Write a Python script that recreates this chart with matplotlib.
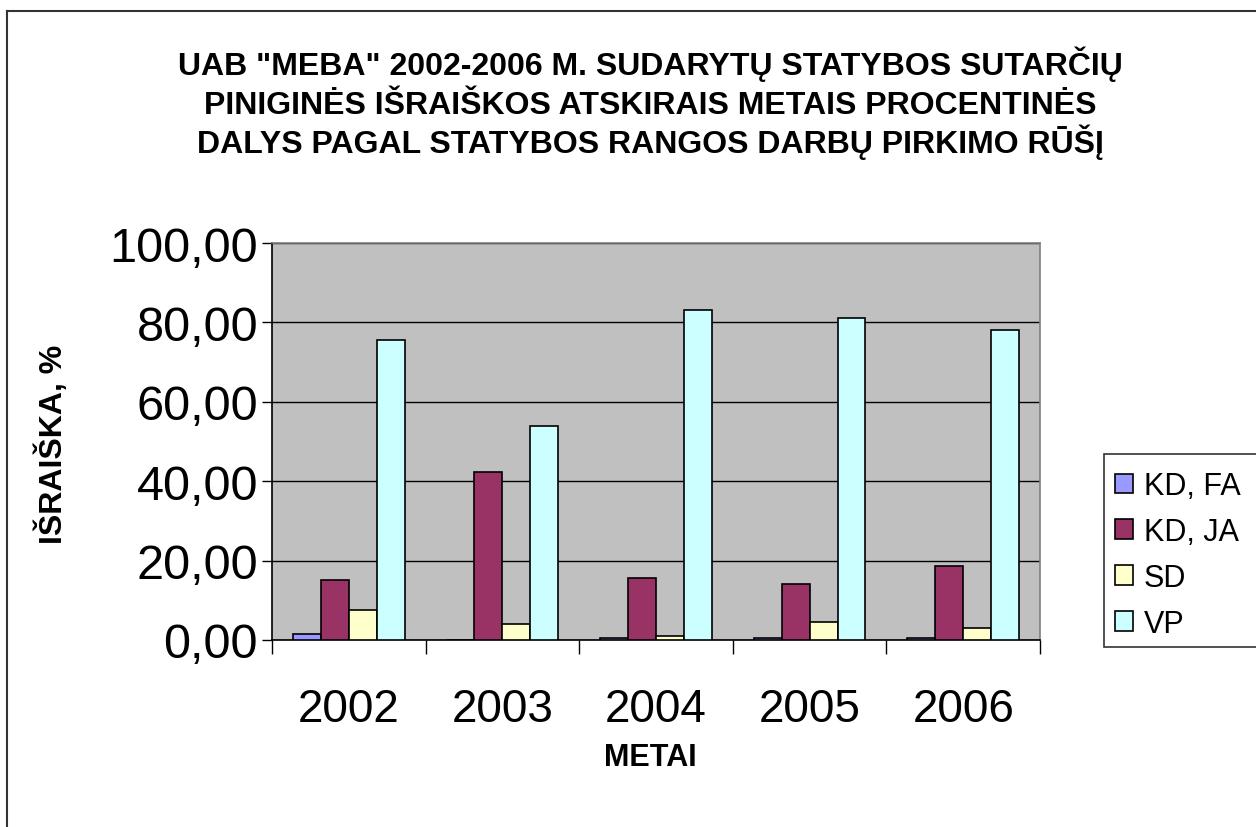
# UAB "MEBA" contract shares by purchase type, 2002-2006

# %% Libraries
import numpy as np
import matplotlib
matplotlib.use("Agg")
import matplotlib.pyplot as plt
from matplotlib.lines import Line2D
from matplotlib.patches import Rectangle
from matplotlib.ticker import FuncFormatter

plt.rcParams["font.family"] = ["Liberation Sans", "DejaVu Sans"]

# %% Data
years = ["2002", "2003", "2004", "2005", "2006"]
series_names = ["KD, FA", "KD, JA", "SD", "VP"]
kd_fa = [1.5, 0.0, 0.5, 0.5, 0.5]
kd_ja = [15.1, 42.3, 15.6, 14.1, 18.6]
sd = [7.6, 4.0, 1.0, 4.5, 3.0]
vp = [75.6, 53.9, 83.1, 81.1, 78.1]
colors = ["#9999FF", "#993366", "#FFFFCC", "#CCFFFF"]

title_lines = ['UAB "MEBA" 2002-2006 M. SUDARYTŲ STATYBOS SUTARČIŲ',
               'PINIGINĖS IŠRAIŠKOS ATSKIRAIS METAIS PROCENTINĖS',
               'DALYS PAGAL STATYBOS RANGOS DARBŲ PIRKIMO RŪŠĮ']

# %% Figure
W, H = 1256, 828
fig = plt.figure(figsize=(W / 100, H / 100), dpi=100)
ax = fig.add_axes([272 / W, (H - 641) / H, 768 / W, 397 / H])
ax.set_facecolor("#C0C0C0")

x = np.arange(len(years))
bar_w = 1 / 5.5  # Excel gap width 150 %
for i, (vals, name, col) in enumerate(zip([kd_fa, kd_ja, sd, vp], series_names, colors)):
    ax.bar(x + (i - 1.5) * bar_w, vals, width=bar_w, color=col, edgecolor="black",
           linewidth=1.2, label=name, zorder=3)

ax.set_xlim(-0.5, len(years) - 0.5)
ax.set_ylim(0, 100)
ax.set_yticks(np.arange(0, 101, 20))
ax.yaxis.set_major_formatter(FuncFormatter(lambda v, p: f"{v:.2f}".replace(".", ",")))
ax.grid(axis="y", color="black", linewidth=1, zorder=1)

# category boundaries get tick marks, labels sit at centres
ax.set_xticks(np.arange(-0.5, len(years)), labels=[""] * (len(years) + 1))
ax.set_xticks(x, labels=years, minor=True)
ax.tick_params(axis="x", which="major", length=10, width=1, direction="out")
ax.tick_params(axis="x", which="minor", length=0, pad=34, labelsize=33)
ax.tick_params(axis="y", length=7, width=1, direction="out", pad=3, labelsize=35)

for s in ["top", "right"]:
    ax.spines[s].set_color("#808080")
for s in ["left", "bottom"]:
    ax.spines[s].set_color("black")
for s in ax.spines.values():
    s.set_linewidth(1.2)

# %% Texts
for k, line in enumerate(title_lines):  # one text per line keeps the spacing even
    fig.text(650 / W, 1 - (75 + 39 * k) / H, line, ha="center", va="baseline",
             fontsize=23, fontweight="bold")
fig.text(52 / W, 1 - 444 / H, "IŠRAIŠKA, %", rotation=90, ha="center", va="center",
         fontsize=23, fontweight="bold")
fig.text(650 / W, 1 - 758 / H, "METAI", ha="center", va="center", fontsize=22,
         fontweight="bold")

# legend box runs past the right edge of the picture
fig.add_artist(Rectangle((1103.5 / W, 1 - 648 / H), 200 / W, 193 / H, transform=fig.transFigure,
                         facecolor="white", edgecolor="#333333", linewidth=1.2, zorder=4))
leg = fig.legend(loc="upper left", bbox_to_anchor=(1115 / W, 1 - 472 / H), fontsize=22,
                 frameon=False, handlelength=0.6, handleheight=0.6, handletextpad=0.35,
                 labelspacing=0.52, borderpad=0, borderaxespad=0)
leg.set_zorder(5)

# outer chart border (cut off at the right and bottom)
fig.add_artist(Line2D([6.5 / W, 6.5 / W], [0, 1 - 11.5 / H], color="#333333", linewidth=1.5))
fig.add_artist(Line2D([6.5 / W, 1], [1 - 11.5 / H, 1 - 11.5 / H], color="#333333", linewidth=1.5))

fig.savefig("out.png", dpi=100)
